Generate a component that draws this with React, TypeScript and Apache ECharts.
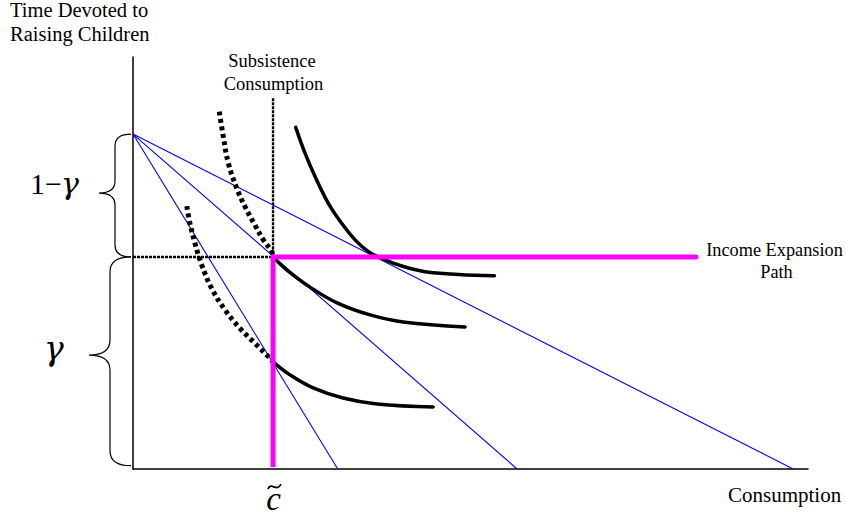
import React, { useEffect, useRef } from "react";
import * as echarts from "echarts";

// ---- data (in diagram units: c̃ = 1 on the x axis, total time = 1 on the y axis) ----
const X_MAX = 4.82;
const Y_MAX = 1.23;
const GAMMA = 0.633; // time share line
const SUBSISTENCE_C = 1; // c-tilde
const SUBSISTENCE_TOP = 1.107;
const EXPANSION_END = 4.02;
const BUDGET_Y0 = 1;
const budgetIntercepts = [1.462, 2.743, 4.714];

const icHigh = [
  [1.162, 1.02], [1.229, 0.942], [1.3, 0.873], [1.395, 0.793], [1.491, 0.733], [1.586, 0.684],
  [1.681, 0.649], [1.776, 0.629], [1.919, 0.606], [2.086, 0.589], [2.324, 0.581], [2.581, 0.577],
];
const icMid = [
  [1.0, 0.633], [1.1, 0.594], [1.264, 0.543], [1.457, 0.496], [1.693, 0.46], [1.929, 0.439], [2.371, 0.424],
];
const icLow = [
  [1.0, 0.32], [1.121, 0.281], [1.286, 0.242], [1.5, 0.212], [1.743, 0.194], [2.143, 0.185],
];
const dottedHigh = [
  [0.616, 1.067], [0.645, 0.992], [0.681, 0.913], [0.741, 0.838], [0.8, 0.783], [0.871, 0.728],
  [0.931, 0.684], [0.991, 0.649], [1.0, 0.633],
];
const dottedLow = [
  [0.384, 0.785], [0.407, 0.733], [0.443, 0.673], [0.491, 0.609], [0.562, 0.539], [0.657, 0.475],
  [0.764, 0.42], [0.871, 0.375], [0.979, 0.33], [1.0, 0.32],
];
// braces: [top, bottom, tip position fraction]
const braces = [
  [BUDGET_Y0, GAMMA, 0.48],
  [GAMMA, 0.01, 0.47],
];

const SERIF = '"Liberation Serif", "Times New Roman", serif';
const BLUE = "#0000ff";
const MAGENTA = "#ff00ff";

function lineSeries(data: number[][], style: any, z = 2) {
  return {
    type: "line",
    data,
    showSymbol: false,
    symbol: "none",
    silent: true,
    z,
    lineStyle: style,
  };
}

function smoothSeries(data: number[][], style: any, z = 3) {
  return { ...lineSeries(data, style, z), smooth: 0.4 };
}

function textEl(text: string, x: number, y: number, size: number, align: string, italic = false, family = SERIF) {
  return {
    type: "text",
    x,
    y,
    silent: true,
    style: {
      text,
      fontSize: size,
      fontFamily: family,
      fontStyle: italic ? "italic" : "normal",
      fill: "#000",
      align,
      textAlign: align,
      verticalAlign: "middle",
      textVerticalAlign: "middle",
    },
  };
}

const braceGeom = [
  { end: 2, mid: 18, tip: 34, r: 12 },
  { end: 2, mid: 23, tip: 44, r: 15 },
];

export default function App() {
  const ref = useRef<HTMLDivElement>(null);
  useEffect(() => {
    const chart = echarts.init(ref.current!, null, { renderer: "svg" });
    const budgetLines = budgetIntercepts.map((b) =>
      lineSeries([[0, BUDGET_Y0], [b, 0]], { color: BLUE, width: 1.1 }, 1)
    );
    const option: any = {
      animation: false,
      backgroundColor: "#fff",
      grid: { left: 133, right: 38, top: 57, bottom: 51, containLabel: false, outerBoundsMode: "none" },
      xAxis: {
        type: "value",
        min: 0,
        max: X_MAX,
        axisLine: { show: true, onZero: false, lineStyle: { color: "#000", width: 1.5 } },
        axisTick: { show: false },
        axisLabel: { show: false },
        splitLine: { show: false },
      },
      yAxis: {
        type: "value",
        min: 0,
        max: Y_MAX,
        axisLine: { show: true, onZero: false, lineStyle: { color: "#000", width: 1.5 } },
        axisTick: { show: false },
        axisLabel: { show: false },
        splitLine: { show: false },
      },
      series: [
        ...budgetLines,
        lineSeries([[0, GAMMA], [SUBSISTENCE_C, GAMMA]], { color: "#000", width: 2.4, type: [3, 1] }, 2),
        lineSeries([[SUBSISTENCE_C, SUBSISTENCE_TOP], [SUBSISTENCE_C, GAMMA]], { color: "#000", width: 2.4, type: [3, 1] }, 2),
        smoothSeries(dottedHigh, { color: "#000", width: 5, type: [4, 3.5], cap: "butt" }, 3),
        smoothSeries(dottedLow, { color: "#000", width: 5, type: [4, 3.5], cap: "butt" }, 3),
        smoothSeries(icHigh, { color: "#000", width: 3.5, cap: "round" }, 3),
        smoothSeries(icMid, { color: "#000", width: 3.5, cap: "round" }, 3),
        smoothSeries(icLow, { color: "#000", width: 3.5, cap: "round" }, 3),
        lineSeries([[SUBSISTENCE_C, GAMMA], [EXPANSION_END, GAMMA]], { color: MAGENTA, width: 5, cap: "round" }, 4),
        lineSeries([[SUBSISTENCE_C, GAMMA], [SUBSISTENCE_C, 0.006]], { color: MAGENTA, width: 5 }, 4),
        {
          type: "custom",
          coordinateSystem: "cartesian2d",
          clip: false,
          silent: true,
          z: 5,
          data: braces,
          encode: { x: 2, y: [0, 1] },
          renderItem: (params: any, api: any) => {
            const g = braceGeom[params.dataIndex];
            const top = api.coord([0, api.value(0)]);
            const bot = api.coord([0, api.value(1)]);
            const frac = api.value(2);
            const xEnd = top[0] - g.end;
            const xMid = top[0] - g.mid;
            const xTip = top[0] - g.tip;
            const yTop = top[1];
            const yBot = bot[1];
            const yTip = yTop + (yBot - yTop) * frac;
            const r = g.r;
            const d =
              `M${xEnd},${yTop} Q${xMid},${yTop} ${xMid},${yTop + r} ` +
              `L${xMid},${yTip - r} Q${xMid},${yTip} ${xTip},${yTip} ` +
              `Q${xMid},${yTip} ${xMid},${yTip + r} ` +
              `L${xMid},${yBot - r} Q${xMid},${yBot} ${xEnd},${yBot}`;
            return {
              type: "path",
              shape: { pathData: d },
              style: { stroke: "#000", fill: "none", lineWidth: 1.2 },
            };
          },
        },
      ],
      graphic: {
        elements: [
          textEl("Time Devoted to", 10, 9.5, 20.5, "left"),
          textEl("Raising Children", 10, 34.3, 20.5, "left"),
          textEl("Subsistence", 272, 60.8, 18.5, "center"),
          textEl("Consumption", 273.5, 83.8, 18.5, "center"),
          textEl("Income Expansion", 774.5, 249.8, 18.3, "center"),
          textEl("Path", 776.5, 271.8, 18.3, "center"),
          textEl("Consumption", 728, 494.9, 21, "left"),
          textEl("1\u2212", 30, 183, 30, "left"),
          textEl("γ", 61, 183, 30, "left", true, '"DejaVu Serif", serif'),
          textEl("γ", 44, 348, 33, "left", true, '"DejaVu Serif", serif'),
          textEl("c", 273.5, 499, 33, "center", true),
          {
            type: "bezierCurve",
            silent: true,
            shape: { x1: 268, y1: 489, cpx1: 271, cpy1: 481, cpx2: 277, cpy2: 493, x2: 281, y2: 484 },
            style: { stroke: "#000", lineWidth: 1.8, fill: "none" },
          },
        ],
      },
    };
    chart.setOption(option);
    return () => chart.dispose();
  }, []);
  return (
    <div
      ref={ref}
      style={{ position: "absolute", left: 0, top: 0, width: 846, height: 520, background: "#fff" }}
    />
  );
}
